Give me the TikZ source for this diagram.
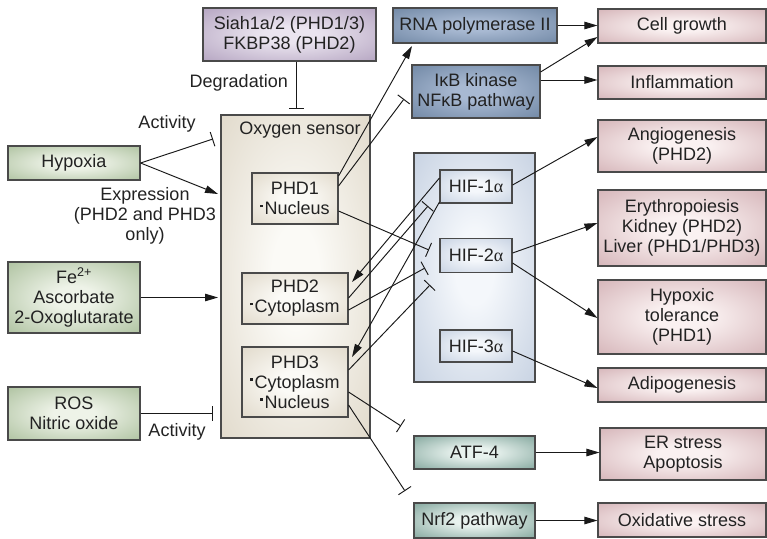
\documentclass[tikz,border=0pt]{standalone}
\usepackage{fontspec}
\setmainfont{Liberation Sans}
\newfontfamily\grk{Liberation Serif}
\usetikzlibrary{arrows.meta,calc}
\colorlet{rin}{white}
\colorlet{rout}{gray}
\pgfdeclareradialshading[rin,rout]{softrad}{\pgfpoint{0bp}{0bp}}{color(0bp)=(rin); color(8bp)=(rin); color(50bp)=(rout)}
\definecolor{bordc}{HTML}{4A4A4A}
\definecolor{txtc}{HTML}{222222}
\definecolor{purpI}{HTML}{EAE4EF}\definecolor{purpO}{HTML}{9A85AA}
\definecolor{dblueI}{HTML}{A8B9D2}\definecolor{dblueO}{HTML}{56708F}
\definecolor{pinkI}{HTML}{FAF1F1}\definecolor{pinkO}{HTML}{C3979D}
\definecolor{greenI}{HTML}{EEF3E8}\definecolor{greenO}{HTML}{8FAA7D}
\definecolor{tealI}{HTML}{E8F2EE}\definecolor{tealO}{HTML}{528276}
\definecolor{beigeI}{HTML}{FBFAF6}\definecolor{beigeO}{HTML}{D4CAB6}
\definecolor{lblueI}{HTML}{F4F7FB}\definecolor{lblueO}{HTML}{B1C0D6}
\newcommand{\sqb}{\rule[7.5pt]{2.6pt}{2.6pt}\hspace{1.5pt}}
\tikzset{
  shadeit/.style={shade, shading=softrad, /utils/exec={\colorlet{rin}{#1I}\colorlet{rout}{#1O}}},
  box/.style 2 args={draw=bordc, line width=1.1pt, inner sep=0pt, align=center, text=txtc,
     minimum width=#1, minimum height=#2},
  purp/.style={shadeit=purp},
  dblue/.style={shadeit=dblue},
  pink/.style={shadeit=pink},
  green/.style={shadeit=green},
  teal/.style={shadeit=teal},
  beige/.style={shadeit=beige},
  lblue/.style={shadeit=lblue},
  arr/.style={-{Triangle[length=13pt,width=7.5pt]}, line width=0.95pt, draw=black!90},
  inh/.style={-{Bar[width=15pt]}, line width=0.95pt, draw=black!90},
  lbl/.style={text=txtc, inner sep=0pt, align=center},
}
\begin{document}
\begin{tikzpicture}[x=1pt,y=-1pt,font=\fontsize{18}{20}\selectfont]
\useasboundingbox (0,0) rectangle (767,538);
% containers
\node[box={149pt}{323pt}, beige] (oxy) at (295.5,276.5) {};
\node[box={121pt}{229pt}, lblue] (hif) at (474.5,267.5) {};
\node[lbl] (oxyl) at (300,130) {Oxygen sensor};
% top / left
\node[box={173pt}{53pt}, purp] (siah) at (289.5,34.5) {Siah1a/2 (PHD1/3)\\FKBP38 (PHD2)};
\node[box={132pt}{34pt}, green] (hypoxia) at (74,163) {Hypoxia};
\node[box={132pt}{71pt}, green] (fe) at (74,297.5) {Fe\textsuperscript{2+}\\Ascorbate\\2-Oxoglutarate};
\node[box={132pt}{53pt}, green] (ros) at (74,413.5) {ROS\\Nitric oxide};
% PHDs
\node[box={86pt}{51pt}, beige] (phd1) at (295,198.5) {PHD1\\\sqb Nucleus};
\node[box={106pt}{51pt}, beige] (phd2) at (295,298.5) {PHD2\\\sqb Cytoplasm};
\node[box={106pt}{70pt}, beige] (phd3) at (295,382) {PHD3\\\sqb Cytoplasm\\\sqb Nucleus};
% middle
\node[box={164pt}{35pt}, dblue] (rna) at (475,25.5) {RNA polymerase II};
\node[box={128pt}{53pt}, dblue] (ikb) at (476,91.5) {IκB kinase\\NFκB pathway};
\node[box={72pt}{33pt}, lblue] (hif1) at (476,186.5) {HIF-1{\grk α}};
\node[box={72pt}{34pt}, lblue] (hif2) at (476,255.5) {HIF-2{\grk α}};
\node[box={72pt}{32pt}, lblue] (hif3) at (476,346) {HIF-3{\grk α}};
\node[box={121pt}{33pt}, teal] (atf) at (474.5,452.5) {ATF-4};
\node[box={121pt}{35pt}, teal] (nrf) at (474.5,520.5) {Nrf2 pathway};
% right
\node[box={168pt}{34pt}, pink] (cell) at (682,26) {Cell growth};
\node[box={168pt}{33pt}, pink] (infl) at (682,82.5) {Inflammation};
\node[box={168pt}{52pt}, pink] (angio) at (682,146) {Angiogenesis\\(PHD2)};
\node[box={168pt}{76pt}, pink] (ery) at (682,228) {Erythropoiesis\\Kidney (PHD2)\\Liver (PHD1/PHD3)};
\node[box={168pt}{74pt}, pink] (hypox) at (682,317) {Hypoxic\\tolerance\\(PHD1)};
\node[box={168pt}{34pt}, pink] (adipo) at (682,385) {Adipogenesis};
\node[box={166pt}{52pt}, pink] (er) at (683,454) {ER stress\\Apoptosis};
\node[box={168pt}{34pt}, pink] (oxid) at (682,520) {Oxidative stress};
% labels
\node[lbl, anchor=east] (degl) at (288,83) {Degradation};
\node[lbl] (act1) at (167,124) {Activity};
\node[lbl] (expl) at (145,216) {Expression\\(PHD2 and PHD3\\only)};
\node[lbl] (act2) at (177,432) {Activity};
% free ends
\coordinate (degT) at (296,109);
\coordinate (hypT) at (213,139);
\coordinate (hypA) at (218,194);
\coordinate (feA) at (218,297.5);
\coordinate (rosT) at (213,413.5);
\coordinate (rnaA) at (412,46);
\coordinate (ikbT) at (404,99);
\coordinate (h2T1) at (429,250);
\coordinate (p2A) at (352,282);
\coordinate (p3A) at (352,357);
\coordinate (h1T) at (428,206);
\coordinate (h2T2) at (425,268);
\coordinate (h2T3) at (430,285);
\coordinate (atfT) at (401,426);
\coordinate (nrfT) at (405,491);
% connectors
\draw[inh] (siah.south -| degT) -- (degT);
\draw[inh] (hypoxia.east) -- (hypT);
\draw[arr] (hypoxia.east) -- (hypA);
\draw[arr] (fe.east) -- (feA);
\draw[inh] (ros.east) -- (rosT);
\draw[arr] (phd1.east |- 0,176) -- (rnaA);
\draw[inh] (phd1.east |- 0,186) -- (ikbT);
\draw[inh] (phd1.east |- 0,211) -- (h2T1);
\draw[arr] (hif1.west |- 0,178) -- (p2A);
\draw[arr] (hif1.west |- 0,202) -- (p3A);
\draw[inh] (phd2.east |- 0,298) -- (h1T);
\draw[inh] (phd2.east |- 0,310) -- (h2T2);
\draw[inh] (phd3.east |- 0,370) -- (h2T3);
\draw[inh] (phd3.east |- 0,392) -- (atfT);
\draw[inh] (phd3.east |- 0,405) -- (nrfT);
\draw[arr] (hif1.east |- 0,185) -- (angio.west |- 0,137);
\draw[arr] (hif2.east |- 0,253) -- (ery.west |- 0,223);
\draw[arr] (hif2.east |- 0,263) -- (hypox.west |- 0,318);
\draw[arr] (hif3.east |- 0,351) -- (adipo.west |- 0,388);
\draw[arr] (rna.east) -- (cell.west |- rna.east);
\draw[arr] (ikb.east |- 0,72) -- (cell.west |- 0,37);
\draw[arr] (ikb.east |- 0,80) -- (infl.west |- 0,80);
\draw[arr] (atf.east) -- (er.west |- atf.east);
\draw[arr] (nrf.east) -- (oxid.west |- nrf.east);
\end{tikzpicture}
\end{document}
